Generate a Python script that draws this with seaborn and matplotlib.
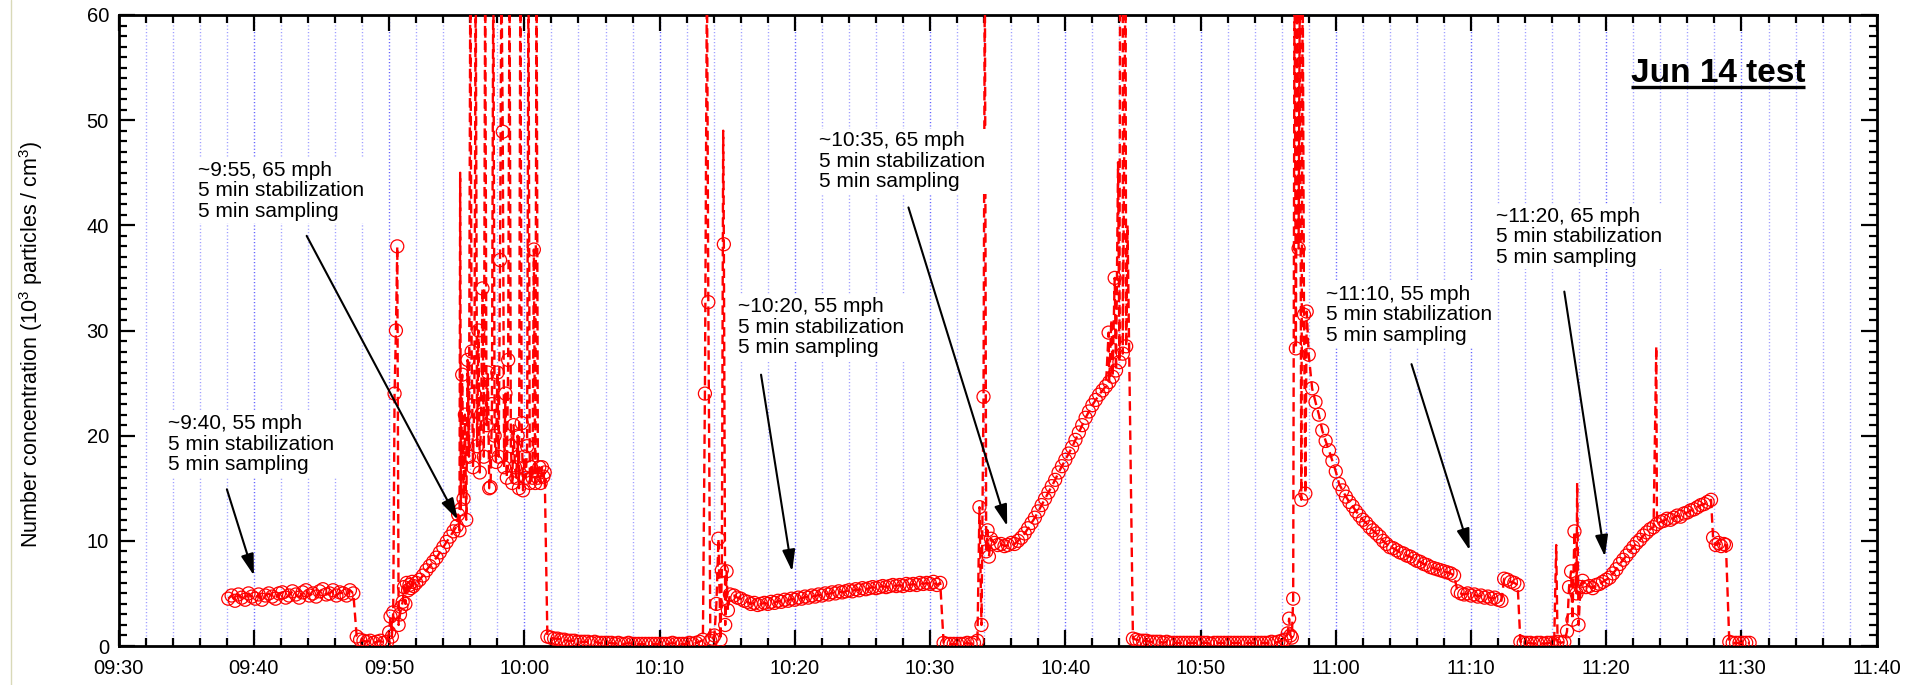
import numpy as np
import pandas as pd
import matplotlib
matplotlib.use("Agg")
import matplotlib.pyplot as plt
import seaborn as sns
from matplotlib.ticker import MultipleLocator, FixedLocator
from matplotlib.lines import Line2D

# ---------------- data (time = minutes after 09:30) ----------------
TICK_LABELS = ["09:30", "09:40", "09:50", "10:00", "10:10", "10:20", "10:30",
               "10:40", "10:50", "11:00", "11:10", "11:20", "11:30", "11:40"]

# regular 15-s records: (start minute, values)
seg_a_start, seg_a = 8.1, [4.5, 4.8, 4.3, 4.9, 4.6, 4.4, 5.0, 4.7, 4.5, 4.9, 4.4, 4.8, 5.0, 4.7, 4.5, 5.0,
                           5.1, 4.6, 4.8, 5.2, 4.9, 4.6, 5.1, 5.3, 4.8, 5.0, 4.7, 5.2, 5.4, 4.9, 5.0, 5.3,
                           4.8, 5.1, 5.0, 4.8, 5.3, 5.0]
seg_b_start, seg_b = 17.6, [0.9, 0.6, 0.5, 0.4, 0.5, 0.3, 0.4, 0.5, 0.3, 0.4]
seg_c_start, seg_c = 22.0, [6.0, 6.3, 6.7, 7.2, 7.6, 8.0, 8.4, 8.9, 9.4, 9.9, 10.4, 10.9, 11.4]
noisy_start, noisy = 25.1, [12.5, 11.0, 13.0, 25.8, 14.0, 22.0, 12.0, 27.2, 18.0, 65.0,
                            28.0, 17.0, 24.0, 65.0, 19.0, 30.0, 16.5, 22.0, 34.0, 18.0,
                            65.0, 21.0, 26.0, 15.0, 15.1, 23.0, 65.0, 20.0, 17.5, 26.0,
                            18.0, 36.7, 65.0, 48.9, 17.0, 24.0, 16.0, 27.2, 65.0, 19.0,
                            15.5, 21.0, 17.0, 16.0, 20.0, 15.0, 65.0, 21.2, 14.8, 18.0,
                            16.0, 19.0, 65.0, 15.5, 17.0, 16.0, 37.7, 15.5, 65.0, 16.0,
                            17.0, 15.5, 17.0, 16.1, 16.5]
seg_d_start, seg_d = 31.7, [0.9, 0.8, 0.7, 0.7, 0.6, 0.6, 0.5, 0.5, 0.5, 0.4, 0.4, 0.4, 0.4, 0.3, 0.4,
                            0.3, 0.3, 0.3, 0.3, 0.3, 0.2, 0.3, 0.2, 0.2, 0.3, 0.2, 0.2, 0.2, 0.2, 0.2,
                            0.2, 0.2, 0.2, 0.2, 0.2, 0.2, 0.2, 0.3, 0.2, 0.2, 0.2, 0.2, 0.3, 0.2, 0.3,
                            0.4]
seg_e_start, seg_e = 45.5, [4.8, 4.6, 4.5, 4.3, 4.2, 4.0, 4.1, 3.9, 4.0, 4.1, 4.0, 4.2, 4.1, 4.3, 4.2,
                            4.4, 4.3, 4.5, 4.4, 4.6, 4.5, 4.7, 4.6, 4.8, 4.7, 4.9, 4.8, 5.0, 4.9, 5.1,
                            5.0, 5.2, 5.1, 5.2, 5.3, 5.2, 5.4, 5.3, 5.5, 5.4, 5.5, 5.6, 5.5, 5.6, 5.7,
                            5.6, 5.7, 5.8, 5.7, 5.8, 5.7, 5.9, 5.8, 5.9, 5.8, 6.0, 5.9, 6.0, 5.9, 6.1,
                            5.8, 6.0]
seg_f_start, seg_f = 61.0, [0.3, 0.2, 0.2, 0.2, 0.2, 0.2, 0.2, 0.3, 0.2, 0.3, 0.5]
seg_g_start, seg_g = 64.5, [10.2, 9.8, 9.6, 9.7, 9.5, 9.6, 9.8, 9.7, 10.0, 10.3, 10.7, 11.2, 11.7, 12.2,
                            12.8, 13.4, 14.0, 14.6, 15.2, 15.8, 16.5, 17.1, 17.7, 18.3, 18.9, 19.6,
                            20.3, 21.0, 21.7, 22.3, 22.9, 23.4, 23.9, 24.3, 24.7, 25.1, 25.6,
                            26.2, 27.0, 27.8, 28.5]
seg_h_start, seg_h = 75.0, [0.7, 0.6, 0.5, 0.5, 0.5, 0.4, 0.4, 0.4, 0.4, 0.3, 0.4, 0.3, 0.3, 0.3, 0.3,
                            0.3, 0.3, 0.3, 0.3, 0.3, 0.3, 0.3, 0.3, 0.2, 0.3, 0.3, 0.3, 0.3, 0.3, 0.3,
                            0.3, 0.3, 0.3, 0.3, 0.3, 0.3, 0.3, 0.3, 0.3, 0.3, 0.3, 0.4, 0.3, 0.4, 0.5,
                            0.6]
seg_i_start, seg_i = 88.0, [27.7, 24.5, 23.2, 22.0, 20.5, 19.5, 18.6, 17.6, 16.6, 15.4, 14.8, 14.2, 13.7,
                            13.3, 12.8, 12.4, 12.0, 11.7, 11.3, 11.0, 10.7, 10.4, 10.0, 9.7, 9.4, 9.3,
                            9.1, 8.9, 8.8, 8.6, 8.5, 8.3, 8.1, 8.0, 7.8, 7.7, 7.5, 7.4, 7.3, 7.2, 7.1,
                            7.0, 6.9, 6.7]
seg_j_start, seg_j = 99.0, [5.2, 5.0, 4.9, 5.0, 4.8, 4.9, 4.7, 4.8, 4.6, 4.7, 4.5, 4.6, 4.4, 4.3]
seg_k_start, seg_k = 102.45, [6.4, 6.3, 6.1, 6.0, 5.8]
seg_l_start, seg_l = 103.65, [0.4, 0.3, 0.3, 0.3, 0.2, 0.3, 0.3, 0.2, 0.3, 0.3, 0.3, 0.4, 0.3, 0.4]
seg_m_start, seg_m = 108.5, [5.6, 5.7, 5.5, 5.8, 5.9, 6.1, 6.3, 6.5, 6.9, 7.3, 7.8, 8.2, 8.6, 9.0, 9.4,
                             9.8, 10.1, 10.5, 10.8, 11.1, 11.3, 11.6, 11.8, 11.9, 12.1, 12.0, 12.2,
                             12.4, 12.3, 12.6, 12.7, 12.9, 13.0, 13.2, 13.4, 13.5, 13.7, 13.9]
seg_n_start, seg_n = 119.1, [0.4, 0.3, 0.3, 0.3, 0.3, 0.3, 0.3]
STEP = 0.25
NOISY_STEP = 0.1

# irregular records around transients (minute, value) -- drawn with markers
burst_t = [20.0, 20.1, 20.2, 20.3, 20.4, 20.5, 20.6, 20.7, 20.8, 20.9, 21.0, 21.1, 21.2, 21.3, 21.4,
           21.5, 21.6, 21.7, 21.8,
           43.2, 43.35, 43.5, 43.6, 43.75, 43.9, 44.05, 44.2, 44.35, 44.5, 44.6, 44.75, 44.85,
           44.95, 45.05, 45.2,
           63.65, 63.8, 63.95, 64.05, 64.15, 64.25, 64.35,
           73.2, 73.65,
           86.45, 86.55, 86.65, 86.75, 86.85, 86.95, 87.05, 87.15, 87.25, 87.35, 87.45, 87.55,
           87.65, 87.75, 87.85,
           107.1, 107.25, 107.4, 107.5, 107.65, 107.8, 107.95, 108.1, 108.25,
           117.9, 118.1, 118.3, 118.5, 118.7, 118.85]
burst_v = [1.3, 2.8, 0.9, 3.2, 24.0, 30.0, 38.0, 2.0, 3.0, 3.7, 4.2, 5.6, 4.0, 6.0, 5.3,
           5.8, 5.5, 6.1, 5.7,
           0.6, 24.0, 65.0, 32.7, 0.5, 0.7, 1.0, 4.0, 10.2, 0.6, 7.2, 38.2, 2.0,
           7.1, 3.4, 4.9,
           13.2, 2.0, 23.7, 65.0, 9.0, 11.0, 8.5,
           29.8, 35.0,
           1.2, 2.6, 1.0, 0.8, 4.5, 65.0, 28.3, 65.0, 37.8, 65.0, 13.9, 65.0,
           31.5, 14.5, 31.8,
           1.4, 5.6, 7.1, 2.5, 10.9, 5.0, 2.0, 5.6, 6.2,
           10.3, 9.6, 9.8, 9.5, 9.7, 9.6]

# short spikes recorded between marked samples (line only)
spike_t = [25.25, 44.7, 73.4, 73.9, 74.05, 74.25, 74.45, 74.6, 106.3, 107.85, 113.7]
spike_v = [45.0, 49.0, 31.0, 46.0, 65.0, 65.0, 65.0, 40.0, 9.6, 15.5, 28.5]

# ---------------- assemble ----------------
segments = [(seg_a_start, seg_a), (seg_b_start, seg_b), (seg_c_start, seg_c),
            (seg_d_start, seg_d), (seg_e_start, seg_e), (seg_f_start, seg_f),
            (seg_g_start, seg_g), (seg_h_start, seg_h), (seg_i_start, seg_i),
            (seg_j_start, seg_j), (seg_k_start, seg_k), (seg_l_start, seg_l),
            (seg_m_start, seg_m), (seg_n_start, seg_n)]
rows = []
for s, vals in segments:
    for i, v in enumerate(vals):
        rows.append((s + i * STEP, v, True))
for i, v in enumerate(noisy):
    rows.append((noisy_start + i * NOISY_STEP, v, True))
for t, v in zip(burst_t, burst_v):
    rows.append((t, v, True))
for t, v in zip(spike_t, spike_v):
    rows.append((t, v, False))
df = pd.DataFrame(rows, columns=["t", "v", "marked"]).sort_values("t").reset_index(drop=True)

# ---------------- style ----------------
sns.set_style("white")
plt.rcParams["font.family"] = ["Liberation Sans", "DejaVu Sans"]
plt.rcParams["mathtext.default"] = "regular"

W, H = 1926, 685
fig = plt.figure(figsize=(W / 100, H / 100), dpi=100)
ax = fig.add_axes([118.7 / W, 1 - 646 / H, 1758 / W, 631 / H])

sns.lineplot(data=df, x="t", y="v", ax=ax, sort=False, estimator=None,
             color="#ff0000", linewidth=1.7, linestyle=(0, (4.0, 2.2)), zorder=3)
sns.scatterplot(data=df[df["marked"]], x="t", y="v", ax=ax, marker="o", s=88,
                facecolor="none", edgecolor="#ff0000", linewidth=0.9, zorder=4)

ax.set_xlim(0, 130)
ax.set_ylim(0, 60)
ax.xaxis.set_major_locator(FixedLocator(np.arange(0, 131, 10)))
ax.set_xticklabels(TICK_LABELS)
ax.xaxis.set_minor_locator(MultipleLocator(2))
ax.yaxis.set_major_locator(MultipleLocator(10))
ax.yaxis.set_minor_locator(MultipleLocator(1))
ax.tick_params(which="both", direction="in", top=True, right=True, bottom=True, left=True,
               labelsize=14.5, width=1.6, color="black", labelcolor="black")
ax.tick_params(which="major", length=11.5)
ax.tick_params(which="minor", length=6)
ax.tick_params(axis="x", pad=9)
ax.tick_params(axis="y", pad=7)
for sp in ax.spines.values():
    sp.set_linewidth(2.0)
    sp.set_color("black")
    sp.set_visible(True)

ax.grid(False)
ax.xaxis.grid(True, which="major", color="#5a5aff", linestyle=(0, (0.8, 1.6)), linewidth=1.0, zorder=0)
ax.xaxis.grid(True, which="minor", color="#9a9aff", linestyle=(0, (0.8, 1.6)), linewidth=1.0, zorder=0)
ax.set_axisbelow(True)

ax.set_xlabel("")
ax.set_ylabel("Number concentration (10$^3$ particles / cm$^3$)", fontsize=15.5, color="black")
ax.yaxis.set_label_coords(-0.042, 0.478)

# ---------------- annotations ----------------
NOTES = [
    ("~9:40, 55 mph\n5 min stabilization\n5 min sampling", (3.65, 19.2), (8.0, 14.9), (10.0, 6.7)),
    ("~9:55, 65 mph\n5 min stabilization\n5 min sampling", (5.86, 43.3), (13.9, 39.0), (25.07, 12.0)),
    ("~10:20, 55 mph\n5 min stabilization\n5 min sampling", (45.8, 30.3), (47.5, 25.8), (49.8, 7.1)),
    ("~10:35, 65 mph\n5 min stabilization\n5 min sampling", (51.8, 46.1), (58.4, 41.7), (65.7, 11.4)),
    ("~11:10, 55 mph\n5 min stabilization\n5 min sampling", (89.3, 31.5), (95.6, 26.8), (99.9, 9.1)),
    ("~11:20, 65 mph\n5 min stabilization\n5 min sampling", (101.85, 38.9), (106.9, 33.7), (109.9, 8.5)),
]
for text, tpos, start, tip in NOTES:
    ax.text(tpos[0], tpos[1], text, fontsize=15, ha="left", va="center", linespacing=1.1,
            color="black", zorder=6,
            bbox=dict(boxstyle="square,pad=0.12", facecolor="white", edgecolor="none"))
    ax.annotate("", xy=tip, xytext=start, zorder=7,
                arrowprops=dict(arrowstyle="-|>,head_length=1.0,head_width=0.3",
                                mutation_scale=13, color="black", lw=1.5,
                                shrinkA=0, shrinkB=0))

title = ax.text(111.83, 54.45, "Jun 14 test", fontsize=24, fontweight="bold",
                ha="left", va="center", color="black", zorder=6)

fig.canvas.draw()
bb = title.get_window_extent()
uy = (bb.y0 + 1.5) / H
fig.add_artist(Line2D([bb.x0 / W, bb.x1 / W], [uy, uy], color="black", linewidth=2.4,
                      solid_capstyle="butt"))
fig.add_artist(Line2D([10.5 / W, 10.5 / W], [0, 1], color="#d9d9b8", linewidth=1.0))

fig.savefig("out.png", dpi=100, facecolor="white")
